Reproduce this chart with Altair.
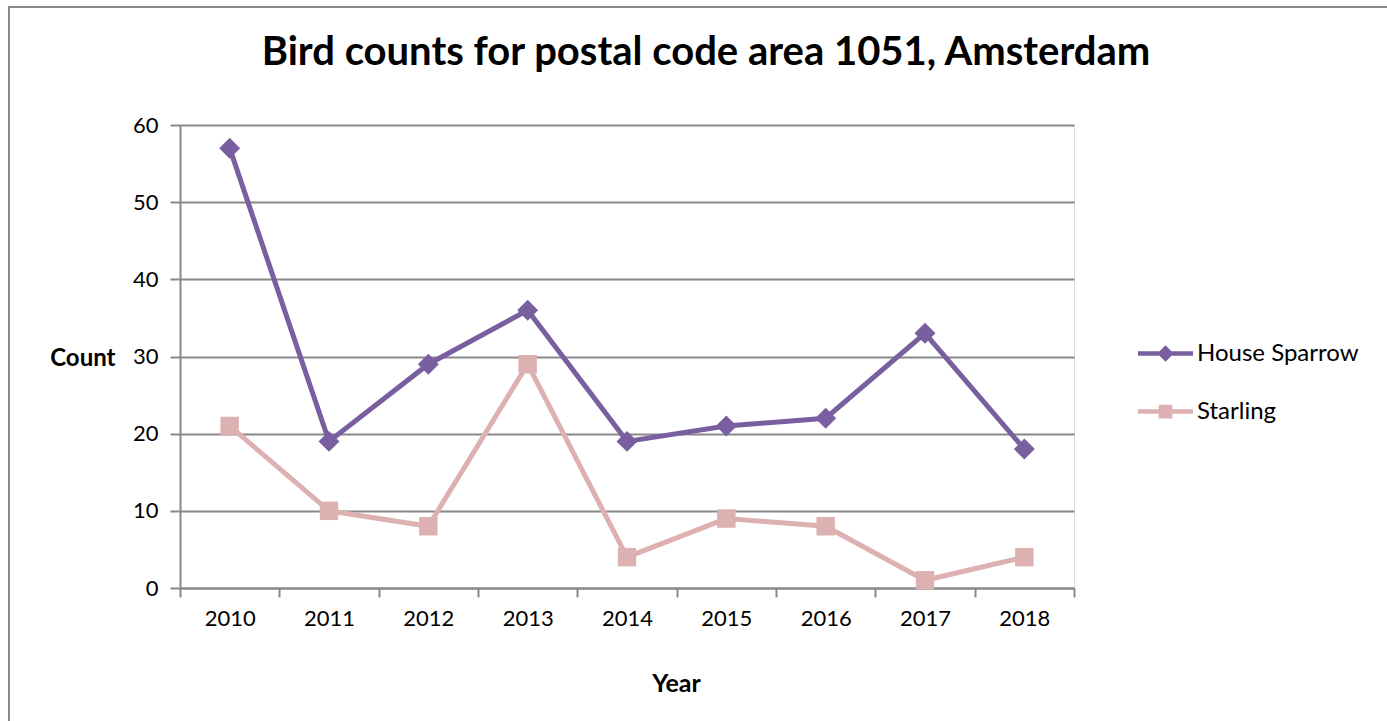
import altair as alt
import pandas as pd

years = ["2010", "2011", "2012", "2013", "2014", "2015", "2016", "2017", "2018"]
house_sparrow = [57, 19, 29, 36, 19, 21, 22, 33, 18]
starling = [21, 10, 8, 29, 4, 9, 8, 1, 4]
series_names = ["House Sparrow", "Starling"]
series_colors = ["#7A5FA0", "#DDB1B1"]

rows = []
for y, v in zip(years, house_sparrow):
    rows.append({"Year": y, "Count": v, "Series": "House Sparrow"})
for y, v in zip(years, starling):
    rows.append({"Year": y, "Count": v, "Series": "Starling"})
df = pd.DataFrame(rows)

FONT = "Lato"
GRID = "#888888"

color_scale = alt.Scale(domain=series_names, range=series_colors)
marker_shapes = ["diamond", "square"]
marker_sizes = [440, 340]

# legend symbols: line segment + marker, drawn as custom path in [-1,1] box
legend_paths = [
    "M-1,-0.08H1V0.08H-1Z M0,-0.3L0.3,0L0,0.3L-0.3,0Z",
    "M-1,-0.08H1V0.08H-1Z M-0.25,-0.25H0.25V0.25H-0.25Z",
]

x_enc = alt.X(
    "Year:N",
    sort=years,
    scale=alt.Scale(paddingInner=0, paddingOuter=0),
    axis=alt.Axis(
        title="Year",
        titleFont=FONT,
        titleFontSize=25,
        titleFontWeight="bold",
        titleColor="#000000",
        titleX=496,
        titleY=95,
        titleAlign="center",
        titleBaseline="middle",
        labelFont=FONT,
        labelFontSize=22,
        labelColor="#000000",
        labelPadding=11,
        labelAngle=0,
        tickBand="extent",
        tickSize=9,
        tickColor=GRID,
        tickWidth=2,
        domainColor=GRID,
        domainWidth=2,
        grid=False,
    ),
)
y_enc = alt.Y(
    "Count:Q",
    scale=alt.Scale(domain=[0, 60], nice=False, zero=True),
    axis=alt.Axis(
        values=[0, 10, 20, 30, 40, 50, 60],
        title="Count",
        titleAngle=0,
        titleFont=FONT,
        titleFontSize=24,
        titleFontWeight="bold",
        titleColor="#000000",
        titleAlign="right",
        titleBaseline="middle",
        titleX=-65,
        titleY=233,
        labelFont=FONT,
        labelFontSize=22,
        labelColor="#000000",
        labelPadding=12,
        tickSize=10,
        tickColor=GRID,
        tickWidth=2,
        domainColor=GRID,
        domainWidth=2,
        grid=True,
        gridColor=GRID,
        gridWidth=2,
    ),
)

lines = alt.Chart(df).mark_line(strokeWidth=5).encode(
    x=x_enc,
    y=y_enc,
    color=alt.Color("Series:N", scale=color_scale, legend=None),
    detail="Series:N",
)

points = alt.Chart(df).mark_point(filled=True, opacity=1).encode(
    x=alt.X("Year:N", sort=years),
    y="Count:Q",
    color=alt.Color("Series:N", scale=color_scale, legend=None),
    shape=alt.Shape("Series:N", scale=alt.Scale(domain=series_names, range=marker_shapes), legend=None),
    size=alt.Size("Series:N", scale=alt.Scale(domain=series_names, range=marker_sizes), legend=None),
)

legend_cfg = dict(
    title=None,
    orient="none",
    legendX=958,
    legendY=201,
    labelFont=FONT,
    labelFontSize=24,
    labelColor="#000000",
    labelLimit=400,
    symbolSize=3025,
    symbolStrokeWidth=0,
    symbolOpacity=1,
    labelOffset=4,
    rowPadding=18,
)

legend_layer = alt.Chart(df).transform_filter("false").mark_point(filled=True, opacity=1).encode(
    x=alt.X("Year:N", sort=years),
    y="Count:Q",
    color=alt.Color("Series:N", scale=color_scale, legend=alt.Legend(**legend_cfg)),
    shape=alt.Shape(
        "Series:N",
        scale=alt.Scale(domain=series_names, range=legend_paths),
        legend=alt.Legend(**legend_cfg),
    ),
)

border = alt.Chart(pd.DataFrame({"a": [0]})).mark_rect(
    fill=None, stroke=GRID, strokeWidth=2, clip=False
).encode(
    x=alt.value(-171), x2=alt.value(1300), y=alt.value(-118), y2=alt.value(700)
)

chart = (
    alt.layer(border, lines, points, legend_layer)
    .resolve_scale(shape="independent", color="independent", size="independent")
    .resolve_legend(color="independent", shape="independent")
    .properties(
        width=894,
        height=463,
        autosize=alt.AutoSizeParams(type="none"),
        padding={"left": 180, "top": 125, "right": 313, "bottom": 133},
        title=alt.TitleParams(
            "Bird counts for postal code area 1051, Amsterdam",
            font=FONT,
            fontSize=40,
            fontWeight="bold",
            color="#000000",
            anchor="middle",
            frame="group",
            baseline="alphabetic",
            dx=79,
            offset=-99,
        ),
    )
    .configure_view(stroke=None)
    .configure(background="white")
)

chart.save("out.html", embed_options={"renderer": "svg", "actions": False})
